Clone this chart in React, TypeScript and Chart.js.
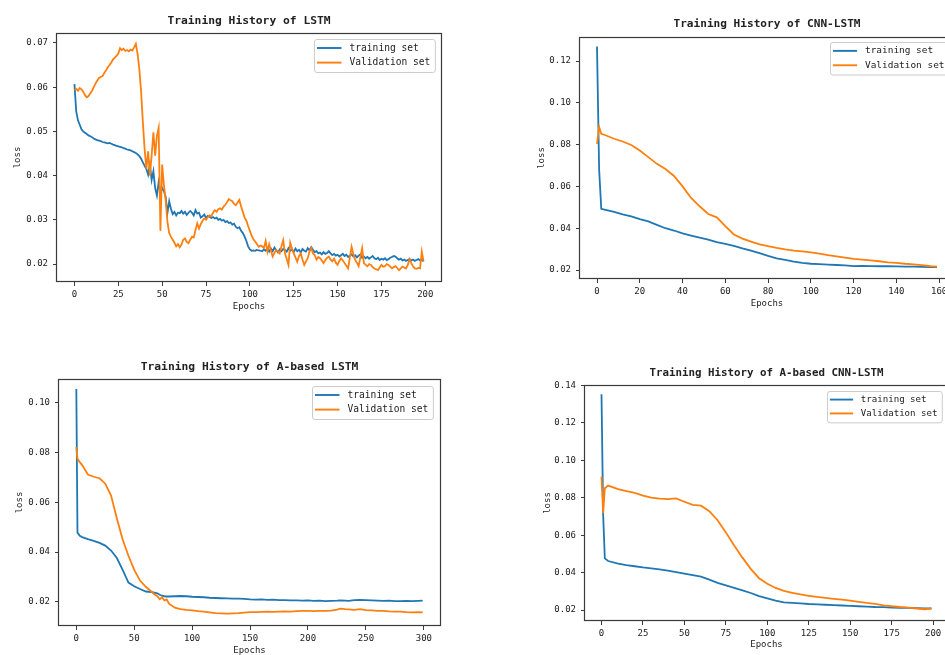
import React, { useEffect, useRef } from "react";
import { Chart, registerables } from "chart.js";

Chart.register(...registerables);

// ---------------- DATA ----------------
const seriesLabels = ["training set", "Validation set"];

// Panel 1: LSTM (epochs 0..199, one value per epoch)
const lstmTrain = [
  0.0607, 0.0545, 0.0525, 0.0515, 0.0505, 0.05, 0.0497, 0.0494, 0.0491, 0.0489,
  0.0487, 0.0484, 0.0482, 0.048, 0.0479, 0.0478, 0.0476, 0.0475, 0.0474, 0.0473,
  0.0474, 0.0472, 0.047, 0.0469, 0.0467, 0.0466, 0.0465, 0.0464, 0.0462, 0.0461,
  0.0459, 0.0458, 0.0457, 0.0455, 0.0453, 0.0451, 0.0448, 0.0444, 0.0438, 0.043,
  0.0422, 0.0415, 0.0402, 0.0425, 0.039, 0.041, 0.0372, 0.0355, 0.0385, 0.036,
  0.0372, 0.0365, 0.0352, 0.0315, 0.0342, 0.0325, 0.0313, 0.0318, 0.031, 0.0316,
  0.0315, 0.032, 0.0314, 0.0318, 0.0311, 0.0316, 0.032, 0.0316, 0.031, 0.0322,
  0.0314, 0.0316, 0.0305, 0.0308, 0.0312, 0.0305, 0.0309, 0.0307, 0.0304, 0.0306,
  0.0303, 0.0305, 0.03, 0.0302, 0.0298, 0.03, 0.0295, 0.0297, 0.0293, 0.0294,
  0.0289, 0.0291, 0.0284, 0.0281, 0.0283, 0.0275, 0.027, 0.0262, 0.0252, 0.024,
  0.0233, 0.023, 0.0231, 0.023, 0.0232, 0.0231, 0.023, 0.0229, 0.0233, 0.023,
  0.0236, 0.0228, 0.0235, 0.0229, 0.0237, 0.0231, 0.0226, 0.0233, 0.0229, 0.0234,
  0.0232, 0.0228, 0.0236, 0.023, 0.0233, 0.0227, 0.0235, 0.0229, 0.0232, 0.0226,
  0.0234, 0.023, 0.0228, 0.0236, 0.0231, 0.0238, 0.0232, 0.0227, 0.0229, 0.0224,
  0.0226, 0.0222, 0.0227, 0.0223, 0.0225, 0.0229, 0.0224, 0.022, 0.0223, 0.0219,
  0.0221, 0.0217, 0.022, 0.0223, 0.0218, 0.0221, 0.0216, 0.0219, 0.0222, 0.0217,
  0.022, 0.0215, 0.0219, 0.0222, 0.0214, 0.0217, 0.0213, 0.0216, 0.0212, 0.0215,
  0.0218, 0.0213, 0.0211, 0.0214, 0.0209, 0.0212, 0.021, 0.0213, 0.0209, 0.0211,
  0.0214, 0.0216, 0.0218, 0.0217, 0.0213, 0.021, 0.0212, 0.0208, 0.021, 0.0207,
  0.0209, 0.0211, 0.0208, 0.021, 0.0207, 0.0209, 0.0211, 0.0208, 0.021, 0.0206,
];
const lstmVal = [
  0.0594, 0.0596, 0.0592, 0.0598, 0.0595, 0.059, 0.0582, 0.0577, 0.058, 0.0586,
  0.0592, 0.06, 0.0608, 0.0615, 0.0621, 0.0623, 0.0625, 0.0632, 0.0638, 0.0645,
  0.065, 0.0656, 0.0663, 0.0667, 0.0671, 0.0676, 0.0688, 0.0684, 0.0687, 0.0682,
  0.0684, 0.0681, 0.0685, 0.0683, 0.069, 0.0698, 0.0675, 0.064, 0.059, 0.052,
  0.046, 0.0415, 0.0455, 0.04, 0.0445, 0.0498, 0.0445, 0.049, 0.0508, 0.0275,
  0.0425, 0.0378, 0.0345, 0.0295, 0.027, 0.0262, 0.0255, 0.0248, 0.024, 0.0245,
  0.0238, 0.0244, 0.0255, 0.0258, 0.025, 0.0247, 0.0255, 0.0262, 0.026, 0.0277,
  0.0292, 0.028, 0.029, 0.0298, 0.0303, 0.03, 0.0306, 0.031, 0.0308, 0.0316,
  0.0322, 0.0318, 0.0324, 0.0326, 0.0323, 0.033, 0.0334, 0.034, 0.0347, 0.0344,
  0.0342, 0.0336, 0.0333, 0.0339, 0.0345, 0.033, 0.0318, 0.0305, 0.0298, 0.0286,
  0.0275, 0.0264, 0.0256, 0.0251, 0.0245, 0.0239, 0.0242, 0.024, 0.0236, 0.0252,
  0.0228, 0.0245, 0.023, 0.0217, 0.0225, 0.0232, 0.0228, 0.0224, 0.024, 0.0254,
  0.0224, 0.0212, 0.0198, 0.0248, 0.0235, 0.0224, 0.0215, 0.0205, 0.0218, 0.0224,
  0.021, 0.0198, 0.0206, 0.0213, 0.0228, 0.0236, 0.0224, 0.022, 0.021, 0.0216,
  0.0213, 0.0208, 0.0202, 0.0209, 0.0214, 0.0217, 0.021, 0.0206, 0.0212, 0.0203,
  0.0198, 0.0207, 0.0213, 0.0208, 0.0202, 0.0196, 0.019, 0.0215, 0.0239, 0.0222,
  0.021, 0.0203, 0.0195, 0.0215, 0.0236, 0.0202, 0.0198, 0.0195, 0.02, 0.0198,
  0.0193, 0.019, 0.0188, 0.0186, 0.0192, 0.0198, 0.0194, 0.0195, 0.02, 0.0198,
  0.0194, 0.019, 0.0193, 0.0195, 0.0191, 0.0186, 0.019, 0.0194, 0.0192, 0.019,
  0.0198, 0.0211, 0.0202, 0.0195, 0.019, 0.0189, 0.0191, 0.019, 0.0228, 0.0206,
];
const lstmXTicks = [0, 25, 50, 75, 100, 125, 150, 175, 200];
const lstmYTicks = [0.02, 0.03, 0.04, 0.05, 0.06, 0.07];

// Panel 2: CNN-LSTM
const cnnEpochs = [0, 1, 2, 4, 8, 12, 16, 20, 24, 28, 32, 36, 40, 44, 48, 52, 56, 60, 64, 68, 72, 76, 80, 84, 88, 92, 96, 100, 104, 108, 112, 116, 120, 124, 128, 132, 136, 140, 144, 148, 152, 156, 159];
const cnnTrain = [0.127, 0.068, 0.0493, 0.0488, 0.0478, 0.0466, 0.0457, 0.0444, 0.0433, 0.0416, 0.04, 0.0389, 0.0375, 0.0365, 0.0355, 0.0345, 0.0334, 0.0325, 0.0316, 0.0304, 0.0293, 0.0281, 0.0268, 0.0256, 0.0248, 0.024, 0.0234, 0.023, 0.0228, 0.0226, 0.0224, 0.0222, 0.0219, 0.022, 0.0219, 0.0218, 0.0218, 0.0217, 0.0216, 0.0216, 0.0215, 0.0214, 0.0214];
const cnnVal = [0.0804, 0.0884, 0.0852, 0.0845, 0.0828, 0.0815, 0.0798, 0.0772, 0.074, 0.0708, 0.0683, 0.065, 0.06, 0.0545, 0.0505, 0.0468, 0.0452, 0.041, 0.037, 0.035, 0.0336, 0.0323, 0.0314, 0.0306, 0.0299, 0.0293, 0.0289, 0.0284, 0.0278, 0.0271, 0.0265, 0.0259, 0.0253, 0.025, 0.0246, 0.0242, 0.0237, 0.0234, 0.023, 0.0227, 0.0223, 0.0218, 0.0216];
const cnnXTicks = [0, 20, 40, 60, 80, 100, 120, 140, 160];
const cnnYTicks = [0.02, 0.04, 0.06, 0.08, 0.1, 0.12];

// Panel 3: A-based LSTM
const attLstmEpochs = [0, 1, 3, 5, 10, 15, 20, 25, 30, 35, 40, 45, 50, 55, 60, 65, 68, 70, 72, 74, 76, 78, 80, 85, 90, 95, 100, 105, 110, 115, 120, 125, 130, 135, 140, 145, 150, 155, 160, 165, 170, 175, 180, 185, 190, 195, 200, 205, 210, 215, 220, 225, 228, 232, 235, 240, 245, 250, 255, 260, 265, 270, 275, 280, 285, 290, 295, 299];
const attLstmTrain = [0.1056, 0.0478, 0.0465, 0.046, 0.0452, 0.0445, 0.0437, 0.0426, 0.0406, 0.0376, 0.0328, 0.0277, 0.0262, 0.0251, 0.0241, 0.0239, 0.0236, 0.0234, 0.0228, 0.0224, 0.0222, 0.0221, 0.0221, 0.0222, 0.0223, 0.0222, 0.022, 0.0219, 0.0218, 0.0216, 0.0215, 0.0214, 0.0213, 0.0212, 0.0212, 0.0211, 0.0209, 0.0208, 0.0209, 0.0207, 0.0208, 0.0206, 0.0206, 0.0205, 0.0205, 0.0204, 0.0205, 0.0203, 0.0204, 0.0202, 0.0203, 0.0204, 0.0205, 0.0204, 0.0203, 0.0206, 0.0207, 0.0206, 0.0205, 0.0204, 0.0203, 0.0204, 0.0202, 0.0202, 0.0203, 0.0202, 0.0203, 0.0204];
const attLstmVal = [0.0822, 0.0775, 0.0762, 0.075, 0.0712, 0.0703, 0.0697, 0.0675, 0.0627, 0.0535, 0.045, 0.0385, 0.0328, 0.0285, 0.026, 0.024, 0.0228, 0.0222, 0.021, 0.0218, 0.0205, 0.0209, 0.0192, 0.0176, 0.017, 0.0167, 0.0165, 0.0162, 0.016, 0.0157, 0.0154, 0.0153, 0.0152, 0.0153, 0.0154, 0.0156, 0.0158, 0.0158, 0.0159, 0.016, 0.0159, 0.016, 0.0161, 0.016, 0.0162, 0.0163, 0.0163, 0.0162, 0.0163, 0.0163, 0.0164, 0.0168, 0.0172, 0.017, 0.0169, 0.0167, 0.017, 0.0166, 0.0165, 0.0163, 0.0163, 0.0161, 0.016, 0.016, 0.0158, 0.0157, 0.0158, 0.0157];
const attLstmXTicks = [0, 50, 100, 150, 200, 250, 300];
const attLstmYTicks = [0.02, 0.04, 0.06, 0.08, 0.1];

// Panel 4: A-based CNN-LSTM
const attCnnEpochs = [0, 1, 2, 4, 10, 15, 20, 25, 30, 35, 40, 45, 50, 55, 60, 65, 70, 75, 80, 85, 90, 95, 100, 105, 110, 115, 120, 125, 130, 135, 140, 145, 150, 155, 160, 165, 170, 175, 180, 185, 190, 195, 199];
const attCnnTrain = [0.1353, 0.0708, 0.0476, 0.0462, 0.0448, 0.044, 0.0434, 0.0428, 0.0423, 0.0417, 0.041, 0.0403, 0.0395, 0.0386, 0.0378, 0.0362, 0.0345, 0.0332, 0.0318, 0.0305, 0.0291, 0.0274, 0.0262, 0.025, 0.0241, 0.0238, 0.0235, 0.0232, 0.023, 0.0228, 0.0226, 0.0224, 0.0222, 0.022, 0.0218, 0.0216, 0.0215, 0.0213, 0.0212, 0.0211, 0.021, 0.0209, 0.0209];
const attCnnVal = [0.0913, 0.0717, 0.0851, 0.0865, 0.0846, 0.0836, 0.0826, 0.0812, 0.0801, 0.0796, 0.0793, 0.0797, 0.0779, 0.0762, 0.0758, 0.0728, 0.068, 0.0615, 0.0545, 0.048, 0.042, 0.037, 0.034, 0.0318, 0.0302, 0.0292, 0.0283, 0.0276, 0.027, 0.0265, 0.026, 0.0255, 0.025, 0.0244, 0.0238, 0.0233, 0.0225, 0.022, 0.0216, 0.0213, 0.0208, 0.0204, 0.0208];
const attCnnXTicks = [0, 25, 50, 75, 100, 125, 150, 175, 200];
const attCnnYTicks = [0.02, 0.04, 0.06, 0.08, 0.1, 0.12, 0.14];

// ---------------- STYLE / LAYOUT ----------------
const BLUE = "#1f77b4";
const ORANGE = "#ff7f0e";
const TEXT = "#222222";
const SPINE = "#3a3a3a";
const MONO = '"DejaVu Sans Mono", "Liberation Mono", monospace';

type PanelCfg = {
  title: string;
  epochs: number[] | null;
  train: number[];
  val: number[];
  xTicks: number[];
  yTicks: number[];
  xRange: [number, number];
  yRange: [number, number];
  L: number; T: number; R: number; B: number;
  titleY: number; epochsY: number; lossX: number;
  titleSize: number; s: number; inset: number;
};

const panels: PanelCfg[] = [
  {
    title: "Training History of LSTM", epochs: null, train: lstmTrain, val: lstmVal,
    xTicks: lstmXTicks, yTicks: lstmYTicks, xRange: [-9.95, 208.95], yRange: [0.01593, 0.07226],
    L: 57, T: 33, R: 441, B: 282, titleY: 21, epochsY: 307, lossX: 18, titleSize: 11.3, s: 1, inset: 6,
  },
  {
    title: "Training History of CNN-LSTM", epochs: cnnEpochs, train: cnnTrain, val: cnnVal,
    xTicks: cnnXTicks, yTicks: cnnYTicks, xRange: [-7.95, 166.95], yRange: [0.0157, 0.1315],
    L: 580, T: 37, R: 954, B: 279, titleY: 24, epochsY: 304, lossX: 542, titleSize: 11.1, s: 0.985, inset: 5,
  },
  {
    title: "Training History of A-based LSTM", epochs: attLstmEpochs, train: attLstmTrain, val: attLstmVal,
    xTicks: attLstmXTicks, yTicks: attLstmYTicks, xRange: [-14.95, 313.95], yRange: [0.01022, 0.10965],
    L: 59, T: 379, R: 440, B: 626, titleY: 367, epochsY: 651, lossX: 20, titleSize: 11.3, s: 1, inset: 7,
  },
  {
    title: "Training History of A-based CNN-LSTM", epochs: attCnnEpochs, train: attCnnTrain, val: attCnnVal,
    xTicks: attCnnXTicks, yTicks: attCnnYTicks, xRange: [-9.95, 208.95], yRange: [0.01412, 0.1403],
    L: 585, T: 385, R: 948, B: 621, titleY: 373, epochsY: 645, lossX: 548, titleSize: 10.8, s: 0.95, inset: 6,
  },
];

const framePlugin = {
  id: "mplFrame",
  afterDraw(chart: any) {
    const { ctx, chartArea } = chart;
    const { left, top, right, bottom } = chartArea;
    ctx.save();
    ctx.strokeStyle = SPINE;
    ctx.lineWidth = 1.2;
    ctx.strokeRect(Math.round(left) - 0.5, Math.round(top) + 0.5, Math.round(right - left) + 1, Math.round(bottom - top) - 1);
    ctx.restore();
  },
};

function makeLegendPlugin(p: PanelCfg) {
  return {
    id: "mplLegend",
    afterDatasetsDraw(chart: any) {
      const { ctx, chartArea } = chart;
      const s = p.s;
      const fs = 9.6 * s;
      ctx.save();
      ctx.font = `${fs}px ${MONO}`;
      const items = chart.data.datasets.map((d: any) => ({ label: d.label, color: d.borderColor }));
      const tw = Math.max(...items.map((it: any) => ctx.measureText(it.label).width));
      const w = 35 * s + tw + 5 * s;
      const h = 33 * s;
      const x = Math.round(chartArea.right - p.inset - w) + 0.5;
      const y = Math.round(chartArea.top + p.inset) + 0.5;
      const r = 2.5;
      ctx.beginPath();
      ctx.moveTo(x + r, y);
      ctx.lineTo(x + w - r, y);
      ctx.quadraticCurveTo(x + w, y, x + w, y + r);
      ctx.lineTo(x + w, y + h - r);
      ctx.quadraticCurveTo(x + w, y + h, x + w - r, y + h);
      ctx.lineTo(x + r, y + h);
      ctx.quadraticCurveTo(x, y + h, x, y + h - r);
      ctx.lineTo(x, y + r);
      ctx.quadraticCurveTo(x, y, x + r, y);
      ctx.closePath();
      ctx.fillStyle = "rgba(255,255,255,0.8)";
      ctx.fill();
      ctx.strokeStyle = "#cccccc";
      ctx.lineWidth = 1;
      ctx.stroke();
      items.forEach((it: any, i: number) => {
        const ry = y + (8.5 + i * 14.6) * s;
        ctx.beginPath();
        ctx.strokeStyle = it.color;
        ctx.lineWidth = 1.9;
        ctx.moveTo(x + 2.5 * s, ry);
        ctx.lineTo(x + 27 * s, ry);
        ctx.stroke();
        ctx.fillStyle = TEXT;
        ctx.textBaseline = "middle";
        ctx.textAlign = "left";
        ctx.fillText(it.label, x + 35 * s, ry);
      });
      ctx.restore();
    },
  };
}

function Panel({ p }: { p: PanelCfg }) {
  const ref = useRef<HTMLCanvasElement | null>(null);
  const cl = p.L - 50;
  const ct = p.titleY - 15;
  const cr = p.R + 10;
  const cb = p.epochsY + 8;
  const w = cr - cl;
  const h = cb - ct;

  useEffect(() => {
    if (!ref.current) return;
    const tlh = p.titleSize * 1.2;
    const lh = 9 * 1.2;
    const toPts = (vals: number[]) =>
      vals.map((v, i) => ({ x: p.epochs ? p.epochs[i] : i, y: v }));
    const tickFont = { family: MONO, size: 9 };
    const chart = new Chart(ref.current, {
      type: "line",
      data: {
        datasets: [
          { label: seriesLabels[0], data: toPts(p.train), borderColor: BLUE, backgroundColor: BLUE, borderWidth: 1.8, pointRadius: 0, tension: 0, order: 1 },
          { label: seriesLabels[1], data: toPts(p.val), borderColor: ORANGE, backgroundColor: ORANGE, borderWidth: 1.8, pointRadius: 0, tension: 0, order: 0 },
        ],
      },
      options: {
        animation: false,
        responsive: false,
        maintainAspectRatio: false,
        layout: { padding: { left: 0, top: 0, right: cr - p.R, bottom: 0 } },
        plugins: {
          legend: { display: false },
          tooltip: { enabled: false },
          title: {
            display: true,
            text: p.title,
            fullSize: false,
            color: TEXT,
            font: { family: MONO, size: p.titleSize, weight: "bold", lineHeight: 1.2 },
            padding: { top: p.titleY - ct - tlh / 2, bottom: p.T - p.titleY - tlh / 2 },
          },
        },
        scales: {
          x: {
            type: "linear",
            min: p.xRange[0],
            max: p.xRange[1],
            afterBuildTicks: (ax: any) => { ax.ticks = p.xTicks.map((v) => ({ value: v })); },
            afterFit: (ax: any) => { ax.height = cb - p.B; },
            grid: { display: true, drawOnChartArea: false, drawTicks: true, tickLength: 4, color: SPINE, lineWidth: 1 },
            border: { display: false },
            ticks: { autoSkip: false, maxRotation: 0, minRotation: 0, padding: 3, color: TEXT, font: tickFont, callback: (v: any) => String(v) },
            title: { display: true, text: "Epochs", color: TEXT, font: { family: MONO, size: 9, lineHeight: 1.2 }, padding: { top: 0, bottom: cb - p.epochsY - lh / 2 } },
          },
          y: {
            type: "linear",
            min: p.yRange[0],
            max: p.yRange[1],
            afterBuildTicks: (ax: any) => { ax.ticks = p.yTicks.map((v) => ({ value: v })); },
            afterFit: (ax: any) => { ax.width = p.L - cl; },
            grid: { display: true, drawOnChartArea: false, drawTicks: true, tickLength: 4, color: SPINE, lineWidth: 1 },
            border: { display: false },
            ticks: { autoSkip: false, padding: 5, color: TEXT, font: tickFont, callback: (v: any) => Number(v).toFixed(2) },
            title: { display: true, text: "loss", color: TEXT, font: { family: MONO, size: 9, lineHeight: 1.2 }, padding: { top: p.lossX - cl - lh / 2, bottom: 0 } },
          },
        },
      } as any,
      plugins: [framePlugin, makeLegendPlugin(p)],
    });
    return () => chart.destroy();
  }, []);

  return (
    <canvas
      ref={ref}
      width={w}
      height={h}
      style={{ position: "absolute", left: cl, top: ct, width: w, height: h, display: "block" }}
    />
  );
}

export default function App() {
  return (
    <div
      style={{
        position: "fixed",
        left: 0,
        top: 0,
        width: 945,
        height: 655,
        overflow: "hidden",
        background: "#ffffff",
      }}
    >
      {panels.map((p, i) => (
        <Panel key={i} p={p} />
      ))}
    </div>
  );
}
